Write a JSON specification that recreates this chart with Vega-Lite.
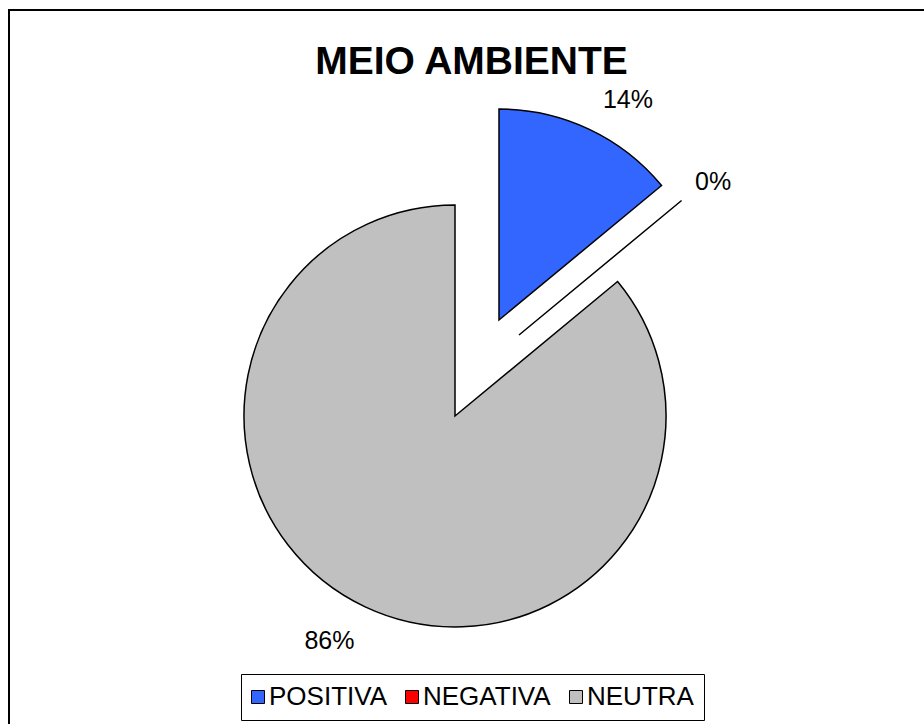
{
  "$schema": "https://vega.github.io/schema/vega-lite/v6.json",
  "width": 919,
  "height": 718,
  "autosize": {"type": "none"},
  "padding": {"left": 9, "top": 10, "right": -4, "bottom": -4},
  "background": "white",
  "view": {"stroke": "black", "strokeWidth": 2, "fill": "white"},
  "config": {
    "view": {"stroke": "black", "strokeWidth": 2},
    "style": {"view": {"stroke": "black", "strokeWidth": 2}},
    "font": "Liberation Sans"
  },
  "title": {
    "text": "MEIO AMBIENTE",
    "fontSize": 39,
    "fontWeight": "bold",
    "font": "Liberation Sans",
    "color": "black",
    "anchor": "middle",
    "baseline": "alphabetic",
    "offset": -103,
    "dx": 3
  },
  "data": {
    "values": [
      {"categoria": "POSITIVA", "valor": 14, "ord": 1, "rotulo": "14%"},
      {"categoria": "NEGATIVA", "valor": 0, "ord": 2, "rotulo": "0%"},
      {"categoria": "NEUTRA", "valor": 86, "ord": 3, "rotulo": "86%"}
    ]
  },
  "transform": [
    {"stack": "valor", "groupby": [], "sort": [{"field": "ord"}], "as": ["v0", "v1"]}
  ],
  "layer": [
    {
      "transform": [{"filter": "datum.categoria === 'NEUTRA'"}],
      "mark": {"type": "arc", "radius": 211, "stroke": "black", "strokeWidth": 1.5, "xOffset": -13.5, "yOffset": 47},
      "encoding": {
        "theta": {"field": "v0", "type": "quantitative", "scale": {"domain": [0, 100]}},
        "theta2": {"field": "v1"},
        "color": {
          "field": "categoria",
          "type": "nominal",
          "scale": {"domain": ["POSITIVA", "NEGATIVA", "NEUTRA"], "range": ["#3366FF", "#FF0000", "#C0C0C0"]},
          "legend": {
            "orient": "none",
            "legendX": 232,
            "legendY": 664,
            "direction": "horizontal",
            "title": null,
            "labelFontSize": 26,
            "labelFont": "Liberation Sans",
            "labelColor": "black",
            "symbolType": "square",
            "symbolSize": 169,
            "symbolStrokeColor": "black",
            "symbolStrokeWidth": 1,
            "symbolOpacity": 1,
            "symbolOffset": -6,
            "labelOffset": -2,
            "columnPadding": 16,
            "padding": 10,
            "strokeColor": "black",
            "fillColor": "white"
          }
        }
      }
    },
    {
      "transform": [{"filter": "datum.categoria === 'POSITIVA'"}],
      "mark": {"type": "arc", "radius": 211, "stroke": "black", "strokeWidth": 1.5, "xOffset": 30.5, "yOffset": -49},
      "encoding": {
        "theta": {"field": "v0", "type": "quantitative"},
        "theta2": {"field": "v1"},
        "color": {"field": "categoria", "type": "nominal"}
      }
    },
    {
      "transform": [{"filter": "datum.categoria === 'NEGATIVA'"}],
      "mark": {"type": "arc", "radius": 211, "stroke": "black", "strokeWidth": 1.5, "xOffset": 50.5, "yOffset": -34},
      "encoding": {
        "theta": {"field": "v0", "type": "quantitative"},
        "theta2": {"field": "v1"},
        "color": {"field": "categoria", "type": "nominal"}
      }
    },
    {
      "mark": {"type": "text", "radius": 250, "fontSize": 25, "font": "Liberation Sans", "color": "black", "xOffset": 53, "yOffset": -43},
      "encoding": {
        "theta": {"field": "valor", "type": "quantitative", "stack": true},
        "order": {"field": "ord"},
        "text": {"condition": {"test": "datum.categoria === 'POSITIVA'", "field": "rotulo"}, "value": ""}
      }
    },
    {
      "mark": {"type": "text", "radius": 250, "fontSize": 25, "font": "Liberation Sans", "color": "black", "xOffset": 52, "yOffset": -28},
      "encoding": {
        "theta": {"field": "valor", "type": "quantitative", "stack": true},
        "order": {"field": "ord"},
        "text": {"condition": {"test": "datum.categoria === 'NEGATIVA'", "field": "rotulo"}, "value": ""}
      }
    },
    {
      "mark": {"type": "text", "radius": 250, "fontSize": 25, "font": "Liberation Sans", "color": "black", "xOffset": -32.6, "yOffset": 46},
      "encoding": {
        "theta": {"field": "valor", "type": "quantitative", "stack": true},
        "order": {"field": "ord"},
        "text": {"condition": {"test": "datum.categoria === 'NEUTRA'", "field": "rotulo"}, "value": ""}
      }
    }
  ]
}
